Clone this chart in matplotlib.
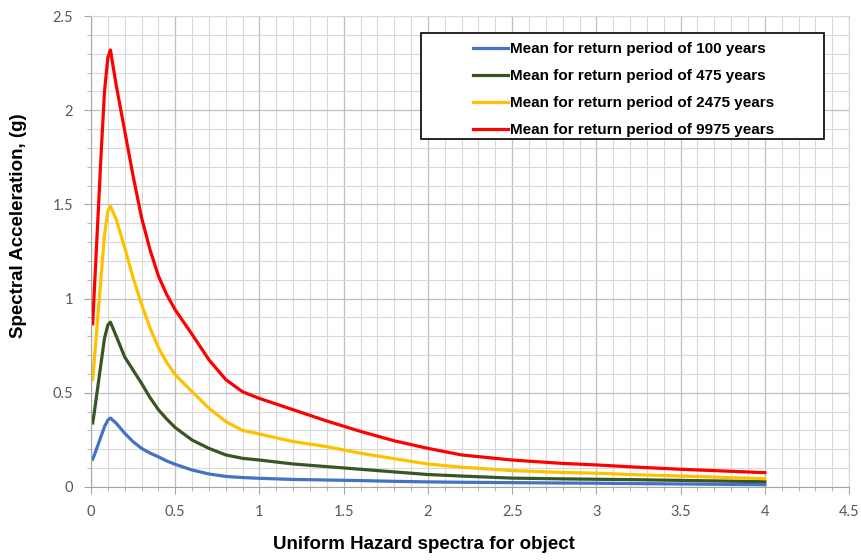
# Uniform hazard spectra - mean curves for four return periods
import matplotlib
matplotlib.use("Agg")
import matplotlib.pyplot as plt
from matplotlib.patches import Rectangle
from matplotlib.ticker import MultipleLocator

# Period (s) and spectral acceleration (g)
period = [0.01, 0.02, 0.04, 0.06, 0.08, 0.1, 0.115, 0.15, 0.2, 0.25, 0.3,
          0.35, 0.4, 0.45, 0.5, 0.6, 0.7, 0.8, 0.9, 1.0, 1.2, 1.4, 1.6,
          1.8, 2.0, 2.2, 2.5, 2.8, 3.0, 3.2, 3.5, 4.0]

sa_100 = [0.148, 0.17, 0.22, 0.27, 0.32, 0.355, 0.366, 0.338, 0.285,
          0.24, 0.205, 0.18, 0.16, 0.138, 0.12, 0.09, 0.069, 0.056, 0.05,
          0.046, 0.04, 0.037, 0.034, 0.03, 0.027, 0.025, 0.023, 0.021,
          0.02, 0.018, 0.016, 0.012]
sa_475 = [0.34, 0.40, 0.53, 0.66, 0.79, 0.86, 0.875, 0.80, 0.69, 0.62,
          0.55, 0.475, 0.41, 0.36, 0.315, 0.249, 0.205, 0.17, 0.152, 0.143,
          0.122, 0.108, 0.094, 0.08, 0.066, 0.058, 0.047, 0.043, 0.041,
          0.039, 0.035, 0.028]
sa_2475 = [0.571, 0.68, 0.90, 1.12, 1.34, 1.465, 1.49, 1.42, 1.27, 1.11,
           0.97, 0.845, 0.74, 0.66, 0.595, 0.506, 0.418, 0.347, 0.30,
           0.281, 0.241, 0.214, 0.179, 0.15, 0.122, 0.105, 0.087, 0.077,
           0.073, 0.066, 0.058, 0.044]
sa_9975 = [0.866, 1.05, 1.41, 1.77, 2.10, 2.28, 2.32, 2.13, 1.89, 1.65,
           1.43, 1.26, 1.12, 1.02, 0.94, 0.81, 0.675, 0.57, 0.505, 0.47,
           0.41, 0.35, 0.295, 0.245, 0.205, 0.17, 0.143, 0.125, 0.117,
           0.107, 0.094, 0.076]

labels = ["Mean for return period of 100 years",
          "Mean for return period of 475 years",
          "Mean for return period of 2475 years",
          "Mean for return period of 9975 years"]
colors = ["#4472C4", "#375623", "#FFC000", "#FF0000"]

fig = plt.figure(figsize=(8.62, 5.6), dpi=100)
ax = fig.add_axes([0.1056, 0.1304, 0.8794, 0.841])

for ys, lab, c in zip([sa_100, sa_475, sa_2475, sa_9975], labels, colors):
    ax.plot(period, ys, color=c, linewidth=2.3, label=lab,
            solid_joinstyle="round")

ax.set_xlim(0, 4.5)
ax.set_ylim(0, 2.5)
ax.xaxis.set_major_locator(MultipleLocator(0.5))
ax.xaxis.set_minor_locator(MultipleLocator(0.1))
ax.yaxis.set_major_locator(MultipleLocator(0.5))
ax.yaxis.set_minor_locator(MultipleLocator(0.1))
ax.xaxis.set_major_formatter(plt.FuncFormatter(lambda v, p: "%g" % v))
ax.yaxis.set_major_formatter(plt.FuncFormatter(lambda v, p: "%g" % v))

ax.grid(which="major", color="#BFBFBF", linewidth=0.9)
ax.grid(which="minor", color="#D9D9D9", linewidth=0.8)
ax.set_axisbelow(True)
for s in ax.spines.values():
    s.set_color("#D9D9D9")
ax.spines["left"].set_color("#A6A6A6")
ax.spines["bottom"].set_color("#A6A6A6")

ax.tick_params(which="both", direction="out", colors="#A6A6A6",
               labelcolor="#595959", labelsize=10.5)
ax.tick_params(which="major", length=5, pad=8)
ax.tick_params(which="minor", length=3)
for t in ax.get_xticklabels() + ax.get_yticklabels():
    t.set_family("Lato")

ax.set_xlabel("Uniform Hazard spectra for object", fontsize=13.5,
              fontweight="bold", family="Liberation Sans")
ax.set_ylabel("Spectral Acceleration, (g)", fontsize=13.5,
              fontweight="bold", family="Liberation Sans")
ax.xaxis.set_label_coords(0.439, -0.104)
ax.yaxis.set_label_coords(-0.084, 0.555)

# legend box is wider than its contents in the original, so draw it apart
ax.add_patch(Rectangle((0.4354, 0.739), 0.5316, 0.225, transform=ax.transAxes,
                       facecolor="white", edgecolor="black", linewidth=1.2,
                       zorder=4))
leg = ax.legend(loc="upper left", bbox_to_anchor=(0.504, 0.944),
                frameon=False, handlelength=2.3, handletextpad=0.1,
                borderpad=0, labelspacing=0.84, borderaxespad=0,
                prop={"family": "Liberation Sans", "weight": "bold",
                      "size": 11})
leg.set_zorder(5)

fig.savefig("out.png", dpi=100)
